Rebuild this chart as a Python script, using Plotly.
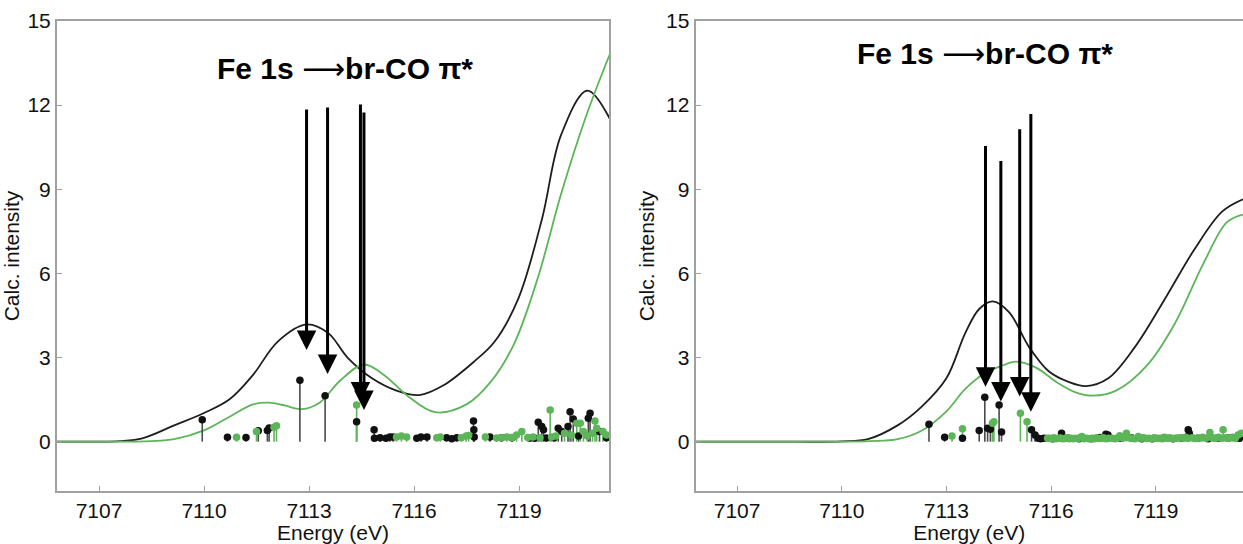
import plotly.graph_objects as go

# ---------------- data ----------------
# Left panel: calculated spectra
L_black_x = [7105.8, 7107.0, 7107.6, 7108.24, 7109.15, 7110.0, 7110.73, 7111.4, 7112.1, 7112.93,
             7113.55, 7114.1, 7114.8, 7115.5, 7116.15, 7116.83, 7117.73, 7118.3, 7118.98, 7119.66,
             7120.2, 7120.95, 7121.6]
L_black_y = [0.0, 0.0, 0.02, 0.12, 0.58, 1.02, 1.51, 2.38, 3.56, 4.18,
             3.87, 3.0, 2.26, 1.82, 1.66, 2.0, 2.87, 3.56, 5.1, 7.96,
             10.93, 12.52, 11.5]
L_green_x = [7105.8, 7107.0, 7108.5, 7109.15, 7110.0, 7110.73, 7111.4, 7111.86, 7112.3, 7112.8,
             7113.3, 7113.9, 7114.57, 7115.14, 7115.81, 7116.6, 7117.5, 7118.19, 7118.86, 7119.54,
             7120.2, 7120.9, 7121.6]
L_green_y = [0.0, 0.0, 0.02, 0.09, 0.4, 0.89, 1.33, 1.39, 1.29, 1.16,
             1.39, 2.19, 2.75, 2.38, 1.64, 1.05, 1.33, 2.13, 3.49, 5.85,
             8.82, 11.55, 13.84]

# Right panel: calculated spectra
R_black_x = [7105.8, 7108.0, 7110.0, 7110.75, 7111.6, 7112.3, 7113.0, 7113.54, 7113.94, 7114.33,
             7114.8, 7115.37, 7115.94, 7116.5, 7117.0, 7117.64, 7118.4, 7119.3, 7120.1, 7120.9, 7121.5]
R_black_y = [0.0, 0.0, 0.01, 0.09, 0.58, 1.26, 2.26, 3.87, 4.73, 5.0,
             4.61, 3.37, 2.5, 2.13, 1.98, 2.26, 3.37, 5.17, 6.84, 8.2, 8.64]
R_green_x = [7105.8, 7108.0, 7110.8, 7111.6, 7112.3, 7113.0, 7113.54, 7114.1, 7114.56, 7115.0,
             7115.58, 7116.15, 7116.7, 7117.2, 7117.86, 7118.77, 7119.56, 7120.36, 7121.04, 7121.5]
R_green_y = [0.0, 0.0, 0.02, 0.09, 0.4, 1.08, 1.88, 2.44, 2.69, 2.85,
             2.63, 2.13, 1.76, 1.64, 1.82, 2.75, 4.24, 6.34, 7.83, 8.1]

# Left panel: transitions (sticks)
L_stick_black_x = [7109.95, 7110.67, 7111.2, 7111.55, 7111.81, 7111.86, 7112.74, 7113.46, 7114.36,
                   7114.86, 7114.87, 7115.03, 7115.2, 7115.31, 7115.4, 7116.08, 7116.2, 7116.37, 7116.93,
                   7117.08, 7117.22, 7117.7, 7117.71, 7117.72, 7118.17, 7118.5, 7118.8, 7119.31, 7119.45,
                   7119.55, 7119.65, 7119.7, 7119.78, 7120.0, 7120.12, 7120.22, 7120.4, 7120.46, 7120.55,
                   7120.7, 7120.98, 7121.03, 7121.3, 7121.5]
L_stick_black_y = [0.78, 0.16, 0.15, 0.39, 0.40, 0.49, 2.19, 1.64, 0.71,
                   0.42, 0.12, 0.14, 0.12, 0.17, 0.17, 0.12, 0.17, 0.17, 0.14,
                   0.10, 0.14, 0.74, 0.42, 0.17, 0.17, 0.14, 0.14, 0.13, 0.12,
                   0.69, 0.54, 0.42, 0.13, 0.14, 0.48, 0.36, 0.54, 1.07, 0.81,
                   0.2, 0.83, 1.01, 0.36, 0.14]
L_stick_green_x = [7110.93, 7111.5, 7112.0, 7112.07, 7114.36,
                   7115.5, 7115.64, 7115.79, 7116.65, 7116.75, 7117.35, 7117.49, 7117.56, 7118.04,
                   7118.36, 7118.5, 7118.65, 7118.8, 7118.93, 7119.08, 7119.25, 7119.4, 7119.6,
                   7119.89, 7119.93, 7120.05, 7120.3, 7120.5, 7120.65, 7120.75, 7120.84, 7120.95,
                   7121.1, 7121.17, 7121.22, 7121.4, 7121.5]
L_stick_green_y = [0.16, 0.36, 0.51, 0.57, 1.31,
                   0.17, 0.2, 0.17, 0.14, 0.17, 0.14, 0.2, 0.22, 0.17,
                   0.13, 0.14, 0.17, 0.15, 0.24, 0.36, 0.15, 0.17, 0.14,
                   1.13, 0.17, 0.2, 0.3, 0.24, 0.66, 0.66, 0.36, 0.2,
                   0.3, 0.74, 0.48, 0.36, 0.24]

# Right panel: transitions (sticks)
R_stick_black_x = [7112.5, 7112.95, 7113.46, 7113.94, 7114.1, 7114.18, 7114.26, 7114.51, 7114.58,
                   7115.44, 7115.54, 7115.63, 7115.7, 7115.8, 7116.05, 7116.3, 7116.5, 7116.8, 7117.15,
                   7117.4, 7117.57, 7117.63, 7118.0, 7118.3, 7118.6, 7118.9, 7119.2, 7119.5, 7119.75,
                   7119.93, 7119.96, 7120.2, 7120.5, 7120.8, 7121.1, 7121.4]
R_stick_black_y = [0.62, 0.16, 0.12, 0.40, 1.58, 0.48, 0.44, 1.31, 0.34,
                   0.42, 0.24, 0.12, 0.1, 0.12, 0.1, 0.3, 0.12, 0.1, 0.1,
                   0.15, 0.26, 0.24, 0.12, 0.14, 0.1, 0.1, 0.12, 0.1, 0.12,
                   0.42, 0.3, 0.12, 0.1, 0.12, 0.14, 0.12]
R_stick_green_x = [7113.16, 7113.46, 7114.32, 7114.36, 7115.12, 7115.31,
                   7115.9, 7115.96, 7116.02, 7116.08, 7116.14, 7116.2, 7116.27, 7116.33, 7116.39,
                   7116.45, 7116.52, 7116.58, 7116.64, 7116.7, 7116.77, 7116.83, 7116.88, 7116.95,
                   7117.02, 7117.08, 7117.17, 7117.24, 7117.3, 7117.38, 7117.44, 7117.5, 7117.58,
                   7117.65, 7117.75, 7117.83, 7117.9, 7117.97, 7118.05, 7118.16, 7118.24, 7118.32,
                   7118.4, 7118.5, 7118.58, 7118.65, 7118.72, 7118.8, 7118.88, 7118.95, 7119.02,
                   7119.1, 7119.18, 7119.25, 7119.33, 7119.4, 7119.48, 7119.55, 7119.62, 7119.7,
                   7119.78, 7119.85, 7119.93, 7120.05, 7120.12, 7120.2, 7120.28, 7120.35, 7120.45,
                   7120.55, 7120.62, 7120.7, 7120.76, 7120.8, 7120.87, 7120.93, 7121.0, 7121.05,
                   7121.12, 7121.2, 7121.28, 7121.36, 7121.45]
R_stick_green_y = [0.2, 0.46, 0.66, 0.71, 1.01, 0.71,
                   0.12, 0.12, 0.1, 0.14, 0.1, 0.12, 0.13, 0.1, 0.11,
                   0.14, 0.1, 0.12, 0.1, 0.12, 0.11, 0.14, 0.18, 0.1,
                   0.12, 0.1, 0.12, 0.1, 0.14, 0.11, 0.12, 0.14, 0.1,
                   0.12, 0.12, 0.1, 0.13, 0.21, 0.12, 0.3, 0.14, 0.12,
                   0.1, 0.18, 0.12, 0.14, 0.11, 0.12, 0.1, 0.14, 0.12,
                   0.12, 0.1, 0.16, 0.12, 0.14, 0.11, 0.12, 0.13, 0.14,
                   0.12, 0.16, 0.12, 0.14, 0.11, 0.12, 0.14, 0.16, 0.12,
                   0.33, 0.14, 0.12, 0.14, 0.16, 0.12, 0.42, 0.14, 0.12,
                   0.14, 0.16, 0.12, 0.24, 0.3]

# Arrows: x position, tail (top) y, tip y
L_arrow_x = [7112.93, 7113.53, 7114.47, 7114.57]
L_arrow_top = [11.9, 11.97, 12.08, 11.79]
L_arrow_tip = [3.27, 2.41, 1.43, 1.13]
R_arrow_x = [7114.12, 7114.56, 7115.1, 7115.42]
R_arrow_top = [10.6, 10.06, 11.19, 11.74]
R_arrow_tip = [1.96, 1.43, 1.61, 1.07]

title_text = ("<b>Fe 1s </b><span style=\"font-family:DejaVu Sans;font-weight:normal\">\u27f6</span>"
              "<b>br-CO \u03c0*</b>")
x_ticks = [7107, 7110, 7113, 7116, 7119]
y_ticks = [0, 3, 6, 9, 12, 15]
x_title = "Energy (eV)"
y_title = "Calc. intensity"

BLACK = "#1e1e1e"
GREEN = "#5cb558"
STEM_BLACK = "#4a4a4a"
FONT = "Liberation Sans, Arial, Helvetica, sans-serif"

fig = go.Figure()


def stems(xs, ys):
    sx, sy = [], []
    for a, b in zip(xs, ys):
        sx += [a, a, None]
        sy += [0, b, None]
    return sx, sy


def add_panel(bx, by, gx, gy, sbx, sby, sgx, sgy, xa, ya):
    fig.add_trace(go.Scatter(x=bx, y=by, mode="lines", line=dict(color=BLACK, width=1.8, shape="spline", smoothing=1.0),
                             xaxis=xa, yaxis=ya, showlegend=False, hoverinfo="skip"))
    fig.add_trace(go.Scatter(x=gx, y=gy, mode="lines", line=dict(color=GREEN, width=1.8, shape="spline", smoothing=1.0),
                             xaxis=xa, yaxis=ya, showlegend=False, hoverinfo="skip"))
    x1, y1 = stems(sbx, sby)
    fig.add_trace(go.Scatter(x=x1, y=y1, mode="lines", line=dict(color=STEM_BLACK, width=1.6),
                             xaxis=xa, yaxis=ya, showlegend=False, hoverinfo="skip"))
    x2, y2 = stems(sgx, sgy)
    fig.add_trace(go.Scatter(x=x2, y=y2, mode="lines", line=dict(color=GREEN, width=1.6),
                             xaxis=xa, yaxis=ya, showlegend=False, hoverinfo="skip"))
    fig.add_trace(go.Scatter(x=sbx, y=sby, mode="markers", marker=dict(color="#111111", size=7.5),
                             xaxis=xa, yaxis=ya, showlegend=False, hoverinfo="skip"))
    fig.add_trace(go.Scatter(x=sgx, y=sgy, mode="markers", marker=dict(color=GREEN, size=7.5),
                             xaxis=xa, yaxis=ya, showlegend=False, hoverinfo="skip"))


add_panel(L_black_x, L_black_y, L_green_x, L_green_y,
          L_stick_black_x, L_stick_black_y, L_stick_green_x, L_stick_green_y, "x", "y")
add_panel(R_black_x, R_black_y, R_green_x, R_green_y,
          R_stick_black_x, R_stick_black_y, R_stick_green_x, R_stick_green_y, "x2", "y2")

annotations = []
for xs, tops, tips, xr, yr in [(L_arrow_x, L_arrow_top, L_arrow_tip, "x", "y"),
                               (R_arrow_x, R_arrow_top, R_arrow_tip, "x2", "y2")]:
    for a, t, p in zip(xs, tops, tips):
        annotations.append(dict(x=a, y=p, ax=a, ay=t, xref=xr, yref=yr, axref=xr, ayref=yr,
                                text="", showarrow=True, arrowhead=2, arrowsize=1.3,
                                arrowwidth=3, arrowcolor="black", standoff=0, startstandoff=0))

annotations.append(dict(x=7114.03, y=13.31, xref="x", yref="y", text=title_text, showarrow=False,
                        font=dict(family=FONT, size=30, color="black")))
annotations.append(dict(x=7114.1, y=13.85, xref="x2", yref="y2", text=title_text, showarrow=False,
                        font=dict(family=FONT, size=30, color="black")))

axis_common = dict(showgrid=False, zeroline=False, showline=True, linecolor="#a0a0a0", linewidth=2,
                   ticks="inside", ticklen=5, tickcolor="#a0a0a0", tickwidth=1,
                   tickfont=dict(family=FONT, size=21, color="#111111"))

fig.update_layout(
    width=1243, height=544,
    margin=dict(l=57, r=0, t=21, b=53),
    paper_bgcolor="white", plot_bgcolor="white",
    showlegend=False,
    annotations=annotations,
    xaxis=dict(domain=[0, 0.4654], range=[7105.8, 7121.57], tickvals=x_ticks, mirror=True,
               title=dict(text=x_title, font=dict(family=FONT, size=21, color="#111111"), standoff=2),
               anchor="y", **axis_common),
    yaxis=dict(range=[-1.76, 15.0], tickvals=y_ticks, mirror=True, anchor="x",
               title=dict(text=y_title, font=dict(family=FONT, size=21, color="#111111"), standoff=6),
               **axis_common),
    xaxis2=dict(domain=[0.5384, 1.0], range=[7105.81, 7121.5], tickvals=x_ticks, mirror=True,
                title=dict(text=x_title, font=dict(family=FONT, size=21, color="#111111"), standoff=2),
                anchor="y2", **axis_common),
    yaxis2=dict(range=[-1.76, 15.0], tickvals=y_ticks, mirror=False, anchor="x2",
                title=dict(text=y_title, font=dict(family=FONT, size=21, color="#111111"), standoff=6),
                **axis_common),
)

fig.write_html("out.html")
